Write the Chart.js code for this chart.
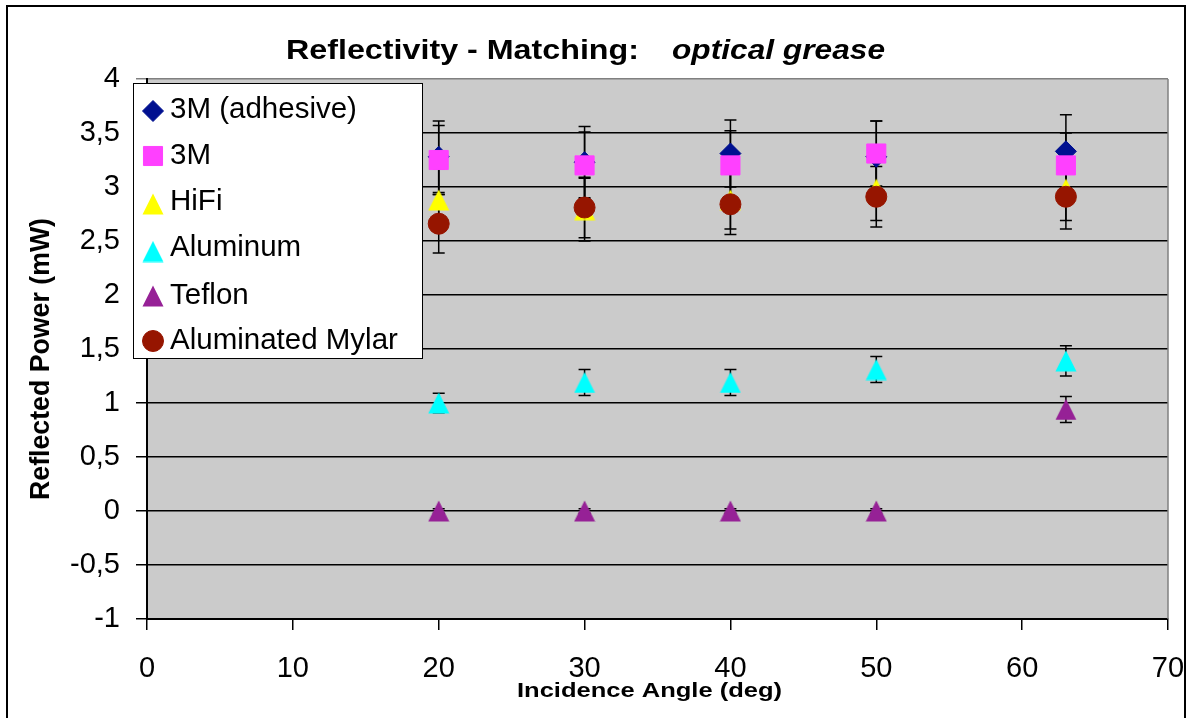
<!DOCTYPE html>
<html><head><meta charset="utf-8">
<script src="https://cdn.jsdelivr.net/npm/chart.js@4.4.0/dist/chart.umd.min.js"></script>
<style>html,body{margin:0;padding:0;background:#fff;overflow:hidden}canvas{display:block}</style>
</head><body>
<canvas id="c" width="1186" height="718"></canvas>
<script>
// ---- data ----
const seriesNames = ['3M (adhesive)', '3M', 'HiFi', 'Aluminum', 'Teflon', 'Aluminated Mylar'];
const angles = [20, 30, 40, 50, 63];
const adhesive3M = [3.28, 3.23, 3.31, 3.28, 3.33];
const adhesive3MErr = [0.33, 0.33, 0.31, 0.33, 0.34];
const plain3M = [3.25, 3.20, 3.20, 3.31, 3.20];
const plain3MErr = [0.32, 0.31, 0.32, 0.30, 0.30];
const hifi = [2.88, 2.79, 2.88, 2.98, 2.98];
const hifiErr = [0.29, 0.29, 0.27, 0.29, 0.29];
const aluminum = [1.00, 1.19, 1.19, 1.31, 1.39];
const aluminumErr = [0.09, 0.12, 0.12, 0.12, 0.14];
const teflon = [0.00, 0.00, 0.00, 0.00, 0.94];
const teflonErr = [0.02, 0.02, 0.02, 0.02, 0.12];
const mylar = [2.66, 2.81, 2.84, 2.91, 2.91];
const mylarErr = [0.27, 0.28, 0.28, 0.28, 0.30];
const xTickLabels = ['0', '10', '20', '30', '40', '50', '60', '70'];
const yTickLabels = ['-1', '-0,5', '0', '0,5', '1', '1,5', '2', '2,5', '3', '3,5', '4'];
const titleMain = 'Reflectivity - Matching:';
const titleItalic = 'optical grease';
const xTitle = 'Incidence Angle (deg)';
const yTitle = 'Reflected Power (mW)';

// ---- styles ----
const FONT = '"Liberation Sans", Arial, sans-serif';
const seriesValues = [adhesive3M, plain3M, hifi, aluminum, teflon, mylar];
const seriesErrors = [adhesive3MErr, plain3MErr, hifiErr, aluminumErr, teflonErr, mylarErr];

function triangleMarker(color) {
  const c = document.createElement('canvas');
  c.width = 22; c.height = 22;
  const g = c.getContext('2d');
  g.fillStyle = color;
  g.beginPath();
  g.moveTo(0.5, 21.5);
  g.lineTo(11, 0.5);
  g.lineTo(21.5, 21.5);
  g.closePath();
  g.fill();
  return c;
}

const seriesStyles = [
  { pointStyle: 'rectRot', radius: 10.5, color: '#001090' },
  { pointStyle: 'rect', radius: 13.5, color: '#FF40FF' },
  { pointStyle: triangleMarker('#FFFF00'), radius: 11, color: '#FFFF00' },
  { pointStyle: triangleMarker('#00FFFF'), radius: 11, color: '#00FFFF' },
  { pointStyle: triangleMarker('#962196'), radius: 11, color: '#962196' },
  { pointStyle: 'circle', radius: 10.5, color: '#961500' }
];
const legendMarkerY = [111, 156, 204, 251.5, 296, 341];
const legendTextY = [110, 155.5, 201.5, 248, 295.5, 340.5];

const datasets = seriesNames.map((name, k) => ({
  label: name,
  data: angles.map((a, i) => ({ x: a, y: seriesValues[k][i] })),
  order: seriesNames.length - 1 - k,
  showLine: false,
  pointStyle: seriesStyles[k].pointStyle,
  pointRadius: seriesStyles[k].radius,
  pointHoverRadius: seriesStyles[k].radius,
  pointBackgroundColor: seriesStyles[k].color,
  pointBorderColor: seriesStyles[k].color,
  pointBorderWidth: 1
}));

const framePlugin = {
  id: 'frame',
  beforeDraw(chart) {
    const { ctx, chartArea: a } = chart;
    ctx.save();
    ctx.fillStyle = '#fff';
    ctx.fillRect(0, 0, chart.width, chart.height);
    ctx.fillStyle = '#CBCBCB';
    ctx.fillRect(a.left, a.top, a.right - a.left, a.bottom - a.top);
    ctx.strokeStyle = '#000';
    ctx.lineWidth = 2;
    ctx.strokeRect(7, 6, 1178, 740);
    ctx.restore();
  },
  beforeDatasetsDraw(chart) {
    const { ctx, chartArea: a, scales: { x, y } } = chart;
    ctx.save();
    ctx.strokeStyle = '#808080';
    ctx.lineWidth = 1.5;
    ctx.beginPath();
    ctx.moveTo(a.right, a.top);
    ctx.lineTo(a.right, a.bottom);
    ctx.stroke();
    // error bars
    ctx.strokeStyle = '#000';
    ctx.lineWidth = 1.5;
    chart.data.datasets.forEach((ds, k) => {
      ds.data.forEach((p, i) => {
        const e = seriesErrors[k][i];
        const px = x.getPixelForValue(p.x);
        const t = y.getPixelForValue(p.y + e);
        const b = y.getPixelForValue(p.y - e);
        ctx.beginPath();
        ctx.moveTo(px, t); ctx.lineTo(px, b);
        ctx.moveTo(px - 6, t); ctx.lineTo(px + 6, t);
        ctx.moveTo(px - 6, b); ctx.lineTo(px + 6, b);
        ctx.stroke();
      });
    });
    ctx.restore();
  },
  afterDraw(chart) {
    const ctx = chart.ctx;
    ctx.save();
    ctx.fillStyle = '#000';
    ctx.textBaseline = 'alphabetic';
    ctx.textAlign = 'left';
    const fit = (text, x0, y0, font, width) => {
      ctx.font = font;
      const w = ctx.measureText(text).width;
      ctx.save();
      ctx.translate(x0, y0);
      ctx.scale(width / w, 1);
      ctx.fillText(text, 0, 0);
      ctx.restore();
    };
    fit(titleMain, 286, 58.5, 'bold 28px ' + FONT, 353);
    fit(titleItalic, 672, 58.5, 'italic bold 28px ' + FONT, 213);
    fit(xTitle, 517, 697, 'bold 21px ' + FONT, 265);
    // y title
    ctx.save();
    ctx.translate(49, 359);
    ctx.rotate(-Math.PI / 2);
    ctx.font = 'bold 28px ' + FONT;
    const yw = ctx.measureText(yTitle).width;
    ctx.scale(282 / yw, 1);
    ctx.textAlign = 'center';
    ctx.fillText(yTitle, 0, 0);
    ctx.restore();

    // legend
    ctx.fillStyle = '#fff';
    ctx.fillRect(133.5, 83.5, 289, 275);
    ctx.strokeStyle = '#000';
    ctx.lineWidth = 1;
    ctx.strokeRect(133.5, 83.5, 289, 275);
    const dp = Chart.helpers && Chart.helpers.drawPoint;
    seriesNames.forEach((name, k) => {
      const st = seriesStyles[k];
      ctx.fillStyle = st.color;
      ctx.strokeStyle = st.color;
      ctx.lineWidth = 1;
      if (dp) {
        dp(ctx, { pointStyle: st.pointStyle, radius: st.radius, rotation: 0, borderWidth: 1 }, 153, legendMarkerY[k]);
      }
      ctx.fillStyle = '#000';
      ctx.font = '29.5px ' + FONT;
      ctx.textBaseline = 'middle';
      ctx.textAlign = 'left';
      ctx.fillText(name, 170, legendTextY[k]);
    });
    ctx.restore();
  }
};

new Chart(document.getElementById('c'), {
  type: 'scatter',
  data: { datasets },
  options: {
    responsive: false,
    animation: false,
    devicePixelRatio: 1,
    layout: { padding: { top: 79, right: 18, bottom: 0, left: 0 } },
    plugins: { legend: { display: false }, tooltip: { enabled: false }, title: { display: false } },
    events: [],
    scales: {
      x: {
        type: 'linear', min: 0, max: 70,
        afterFit: s => { s.height = 99; s.paddingLeft = 0; s.paddingRight = 0; },
        ticks: {
          stepSize: 10, color: '#000', padding: 22, maxRotation: 0, autoSkip: false,
          font: { family: FONT, size: 29 },
          callback: (v, i) => xTickLabels[i]
        },
        grid: { drawOnChartArea: false, drawTicks: true, tickLength: 11, color: '#000', lineWidth: 1.5 },
        border: { display: true, color: '#000', width: 2 }
      },
      y: {
        type: 'linear', min: -1, max: 4,
        afterFit: s => { s.width = 147; s.paddingTop = 0; s.paddingBottom = 0; },
        ticks: {
          stepSize: 0.5, color: '#000', padding: 16, autoSkip: false,
          font: { family: FONT, size: 29 },
          callback: (v, i) => yTickLabels[i]
        },
        grid: {
          drawTicks: true, tickLength: 11, lineWidth: 1.5,
          color: c => (c.tick && c.tick.value === 4) ? '#808080' : '#000'
        },
        border: { display: true, color: '#000', width: 2 }
      }
    }
  },
  plugins: [framePlugin]
});
</script>
</body></html>
